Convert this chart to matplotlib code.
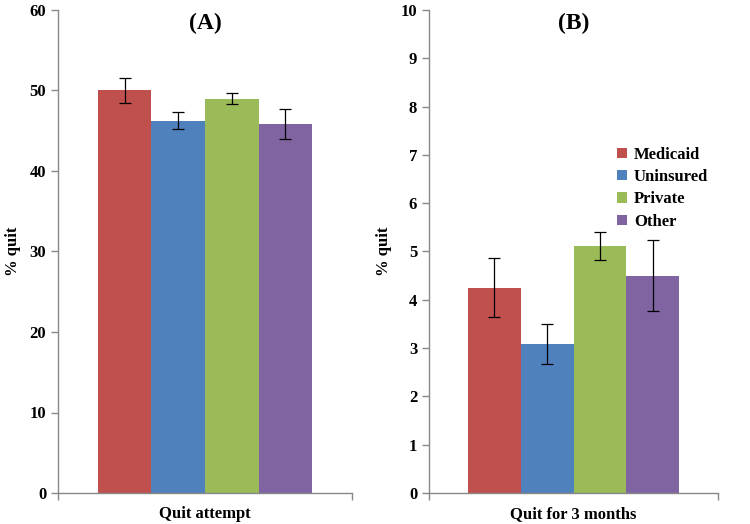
import numpy as np
import matplotlib
matplotlib.use("Agg")
import matplotlib.pyplot as plt

# data
groups = ["Medicaid", "Uninsured", "Private", "Other"]
colors = ["#C0504D", "#4F81BD", "#9BBB59", "#8064A2"]

attempt = [50.0, 46.2, 49.0, 45.8]
attempt_lo = [48.5, 45.2, 48.3, 44.0]
attempt_hi = [51.5, 47.3, 49.7, 47.7]

quit3 = [4.25, 3.08, 5.12, 4.5]
quit3_lo = [3.65, 2.67, 4.83, 3.76]
quit3_hi = [4.87, 3.50, 5.40, 5.24]

plt.rcParams['font.family'] = ['Liberation Serif', 'DejaVu Serif']
plt.rcParams['font.weight'] = 'bold'

fig = plt.figure(figsize=(7.5, 5.24), dpi=100)
axA = fig.add_axes([58 / 750, 1 - 493 / 524, 294 / 750, 483 / 524])
axB = fig.add_axes([429 / 750, 1 - 493 / 524, 289 / 750, 483 / 524])


def draw(ax, vals, lo, hi, ymax, step, title, xlab):
    x = np.arange(len(vals))
    err = [np.array(vals) - np.array(lo), np.array(hi) - np.array(vals)]
    bars = ax.bar(x, vals, width=1.0, color=colors, edgecolor='none',
                  yerr=err, capsize=4.5,
                  error_kw=dict(ecolor='black', elinewidth=0.9, capthick=0.9))
    xmin, xmax = -1.24, 4.24
    ax.set_xlim(xmin, xmax)
    ax.set_ylim(0, ymax)
    ax.set_yticks(np.arange(0, ymax + step / 2, step))
    ax.set_xticks([xmin, xmax])
    ax.set_xticklabels(["", ""])
    for s in ['top', 'right']:
        ax.spines[s].set_visible(False)
    for s in ['left', 'bottom']:
        ax.spines[s].set_color('#888888')
        ax.spines[s].set_linewidth(1.0)
    ax.tick_params(axis='both', direction='out', length=5, color='#888888',
                   labelsize=12, width=1.0)
    for lab in ax.get_yticklabels():
        lab.set_fontweight('bold')
    ax.set_ylabel("% quit", fontsize=12, fontweight='bold', labelpad=6)
    ax.set_xlabel(xlab, fontsize=12, fontweight='bold', labelpad=1)
    ax.set_title(title, fontsize=17, fontweight='bold', pad=-14, y=1.0)
    return bars


draw(axA, attempt, attempt_lo, attempt_hi, 60, 10, "(A)", "Quit attempt")
bars = draw(axB, quit3, quit3_lo, quit3_hi, 10, 1, "(B)", "Quit for 3 months")

leg = axB.legend(bars, groups, loc='upper left', bbox_to_anchor=(0.6, 0.748),
                 frameon=False, handlelength=0.6, handleheight=0.6,
                 handletextpad=0.4, labelspacing=0.38,
                 prop=dict(size=12, weight='bold'))

fig.savefig("out.png", dpi=100)
